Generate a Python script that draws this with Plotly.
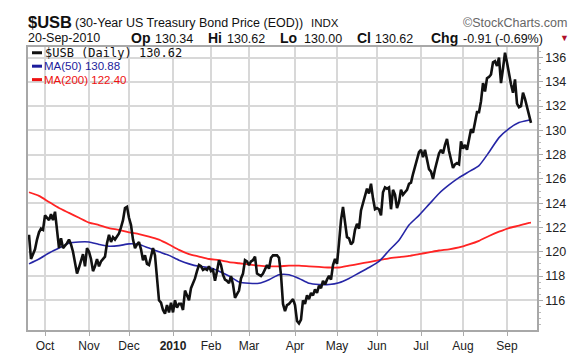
import plotly.graph_objects as go
import pandas as pd

# ---------------- data ----------------
holidays = ["2009-11-26", "2009-12-25", "2010-01-01", "2010-01-18", "2010-02-15",
            "2010-04-02", "2010-05-31", "2010-07-05", "2010-09-06"]
dates = [d.strftime("%Y-%m-%d") for d in pd.bdate_range("2009-09-21", "2010-09-20")
         if d.strftime("%Y-%m-%d") not in holidays]

price = [
    121.4, 119.4, 119.8, 120.2, 121.0, 121.6, 121.9, 121.8, 123.0, 122.8,
    122.6, 123.1, 122.6, 123.3, 121.6, 120.3, 121.1, 120.3, 120.5, 120.7,
    121.0, 120.6, 120.0, 119.2, 118.2, 118.7, 119.2, 119.8, 118.8, 120.3,
    120.0, 119.4, 118.4, 118.8, 119.4, 118.8, 119.2, 119.4, 119.6, 120.7,
    121.4, 120.8, 121.2, 121.0, 121.3, 121.5, 122.0, 122.6, 123.6, 123.7,
    122.8, 122.2, 121.0, 120.3, 120.6, 120.8, 120.2, 119.3, 119.7, 119.0,
    118.9, 119.6, 120.3, 119.7, 118.1, 116.0, 115.8, 115.2, 114.9, 115.6,
    115.0, 115.8, 115.0, 116.0, 115.4, 115.7, 115.7, 115.2, 116.8, 116.4,
    116.0, 117.0, 117.4, 117.8, 118.4, 118.9, 118.8, 118.5, 118.6, 118.5,
    118.8, 118.4, 118.5, 117.6, 118.4, 119.3, 118.9, 118.1, 117.7, 117.6,
    117.4, 118.0, 117.3, 116.2, 116.5, 116.8, 117.8, 118.2, 119.3, 119.2,
    118.9, 119.2, 119.3, 119.6, 118.2, 118.1, 118.0, 118.2, 118.5, 118.9,
    118.6, 119.5, 119.7, 119.7, 119.7, 119.5, 118.1, 115.7, 115.1, 115.6,
    115.7, 115.9, 116.1, 115.6, 114.3, 114.1, 114.4, 116.0, 115.7, 116.4,
    116.1, 116.6, 116.4, 116.9, 116.6, 117.2, 117.0, 117.6, 117.3, 117.7,
    118.0, 117.7, 118.9, 119.4, 119.0, 120.7, 122.6, 123.7, 122.6, 121.2,
    121.1, 120.6, 120.8, 121.8, 122.3, 121.9, 123.4, 124.0, 124.5, 125.2,
    124.8, 125.6, 124.4, 123.5, 123.6, 123.5, 123.0, 124.9, 125.3, 125.2,
    125.3, 123.5, 125.1, 124.7, 123.6, 124.1, 125.1, 124.7, 124.9, 125.1,
    125.6, 125.7, 126.4, 127.0, 127.6, 128.2, 128.4, 127.8, 128.4, 127.6,
    126.8, 126.6, 126.0, 126.8, 127.4, 128.1, 128.4, 128.1, 128.8, 129.3,
    128.3, 127.7, 126.9, 127.2, 127.3, 127.2, 129.1, 128.5, 128.8, 128.4,
    129.3, 130.1, 129.8, 130.6, 131.5, 131.5, 132.4, 133.9, 133.2, 134.3,
    134.4, 134.6, 135.6, 135.7, 135.3, 136.0, 133.9, 135.1, 136.4, 135.6,
    134.6, 133.8, 133.1, 134.2, 132.2, 131.9, 132.0, 133.1, 132.6, 131.9,
    131.4, 130.62,
]

# moving averages read every 5th session plus the last one
ma_dates = dates[0:251:5] + [dates[-1]]
ma50 = [
    119.0, 119.4, 119.9, 120.3, 120.7, 120.8, 120.8, 120.6, 120.45, 120.5,
    120.65, 120.6, 120.3, 120.0, 119.7, 119.3, 119.0, 118.8, 118.7, 118.4,
    118.0, 117.5, 117.4, 117.4, 117.7, 118.1, 118.1, 117.8, 117.4, 117.3,
    117.3, 117.45, 117.8, 118.25, 118.7, 119.2, 120.1, 120.95, 122.2, 123.0,
    123.9, 124.8, 125.5, 126.1, 126.6, 127.1, 128.2, 129.4, 130.15, 130.65,
    130.85, 130.88,
]
ma200 = [
    124.9, 124.6, 124.1, 123.6, 123.2, 122.8, 122.4, 122.2, 121.95, 121.8,
    121.6, 121.45, 121.25, 121.0, 120.6, 120.15, 119.8, 119.6, 119.4, 119.3,
    119.15, 119.05, 118.95, 118.85, 118.8, 118.8, 118.85, 118.85, 118.8, 118.75,
    118.7, 118.7, 118.85, 119.0, 119.15, 119.3, 119.45, 119.55, 119.65, 119.8,
    119.95, 120.1, 120.2, 120.35, 120.6, 120.9, 121.3, 121.65, 121.95, 122.15,
    122.38, 122.40,
]

month_names = ["Oct", "Nov", "Dec", "<b>2010</b>", "Feb", "Mar", "Apr", "May",
               "Jun", "Jul", "Aug", "Sep"]
y_ticks = [116, 118, 120, 122, 124, 126, 128, 130, 132, 134, 136]

# first trading day of each month (tick positions)
month_starts = [d for k, d in enumerate(dates) if k > 0 and d[:7] != dates[k - 1][:7]]

# ---------------- figure ----------------
L, R, T, B = 20, 529, 39, 334
W, H = R - L, B - T


def px(x):
    return (x - L) / W


def py(y):
    return (B - y) / H


fig = go.Figure()
fig.add_trace(go.Scatter(x=ma_dates, y=ma200, mode="lines",
                         line=dict(color="#ff2424", width=1.8, shape="spline", smoothing=0.6),
                         hoverinfo="skip"))
fig.add_trace(go.Scatter(x=ma_dates, y=ma50, mode="lines",
                         line=dict(color="#2626a6", width=1.6, shape="spline", smoothing=0.6),
                         hoverinfo="skip"))
fig.add_trace(go.Scatter(x=dates, y=price, mode="lines",
                         line=dict(color="#111111", width=2.6)))

grid = "#d8d8d8"
fig.update_layout(
    width=577, height=357,
    margin=dict(l=L, r=577 - R, t=T, b=357 - B, pad=0),
    paper_bgcolor="white", plot_bgcolor="white",
    showlegend=False,
    font=dict(family="Liberation Sans, Arial, sans-serif", size=12, color="#222"),
    xaxis=dict(type="category", categoryorder="array", categoryarray=dates,
               range=[-0.5, 254], tickvals=month_starts, ticktext=month_names,
               showgrid=True, gridcolor=grid, gridwidth=1.5,
               ticks="outside", ticklen=4, tickcolor="#aaaaaa",
               showline=True, mirror=True, linecolor="#a8a8a8", linewidth=1.5,
               zeroline=False, tickfont=dict(size=12, color="#222")),
    yaxis=dict(side="right", range=[113.55, 136.87], tickvals=y_ticks,
               showgrid=True, gridcolor=grid, gridwidth=1.5,
               ticks="outside", ticklen=4, tickcolor="#aaaaaa",
               minor=dict(dtick=0.5, ticks="outside", ticklen=2, tickcolor="#bbbbbb", showgrid=False),
               showline=True, mirror=True, linecolor="#a8a8a8", linewidth=1.5,
               zeroline=False, tickfont=dict(size=12.5, color="#222")),
)


def ann(text, x, y, size, color="#111", anchor="left", family="Liberation Sans, Arial, sans-serif"):
    return dict(text=text, x=px(x), y=py(y), xref="paper", yref="paper",
                xanchor=anchor, yanchor="middle", showarrow=False, borderpad=0,
                font=dict(size=size, color=color, family=family))


annotations = [
    ann("<b>$USB</b>", 19, 13, 16.5),
    ann("(30-Year US Treasury Bond Price (EOD))", 66, 14, 12.5),
    ann("INDX", 302, 14, 11.5),
    ann("©StockCharts.com", 560, 13.5, 12.5, color="#666666", anchor="right"),
    ann("20-Sep-2010", 19, 30, 12.5),
    ann("<b>Op</b>", 122, 30, 14), ann("130.34", 146, 30.5, 12.5),
    ann("<b>Hi</b>", 199, 30, 14), ann("130.62", 218, 30.5, 12.5),
    ann("<b>Lo</b>", 271, 30, 14), ann("130.00", 295, 30.5, 12.5),
    ann("<b>Cl</b>", 348, 30, 14), ann("130.62", 366, 30.5, 12.5),
    ann("<b>Chg</b>", 422, 30, 14), ann("-0.91 (-0.69%)", 454, 30.5, 12.5),
    ann("▼", 556, 30, 9, color="#b0102a", anchor="center"),
    ann("$USB (Daily) 130.62", 36, 45, 12, family="DejaVu Sans Mono, monospace"),
    ann("MA(50) 130.88", 35, 59, 11.5, color="#1c1c9c"),
    ann("MA(200) 122.40", 35, 73, 11.5, color="#ee1111"),
]
fig.update_layout(annotations=annotations)

shapes = []
for yy, col in [(45, "#111111"), (59, "#1c1c9c"), (73, "#ee1111")]:
    shapes.append(dict(type="line", xref="paper", yref="paper",
                       x0=px(24), x1=px(34), y0=py(yy), y1=py(yy),
                       line=dict(color=col, width=3)))
fig.update_layout(shapes=shapes)

fig.write_html("out.html")
